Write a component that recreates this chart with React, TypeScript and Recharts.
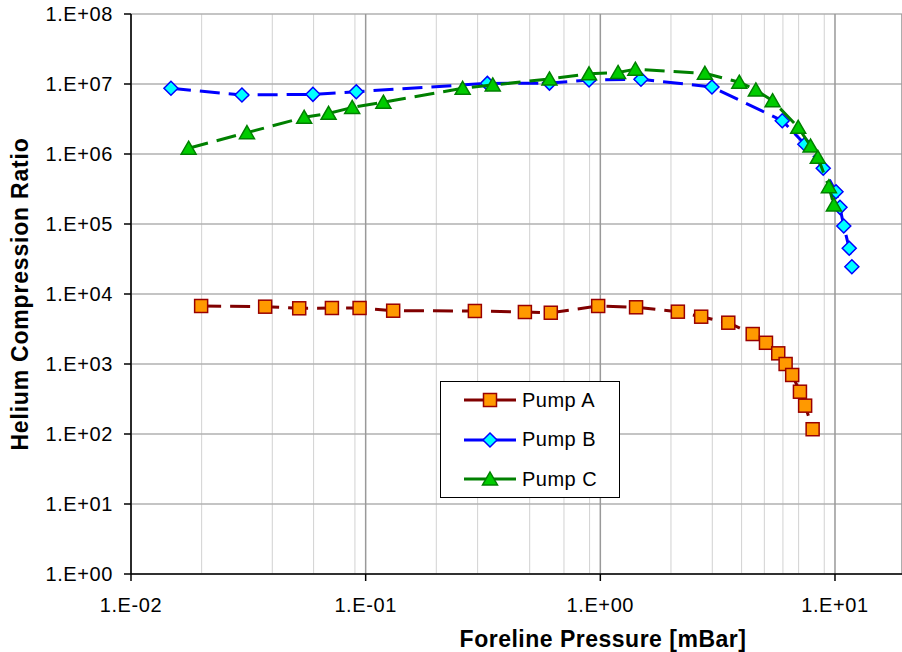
import { ScatterChart, Scatter, XAxis, YAxis, CartesianGrid, Legend } from 'recharts';

const FONT = '"Liberation Sans", Arial, sans-serif';

// Foreline pressure [mBar] and helium compression ratio
const pumpAPressure = [0.0199, 0.0373, 0.0521, 0.0718, 0.0942, 0.131, 0.292, 0.477, 0.615, 0.979, 1.42, 2.14, 2.69, 3.51, 4.46, 5.08, 5.73, 6.16, 6.57, 7.09, 7.46, 8.03];
const pumpARatio = [6740, 6590, 6250, 6310, 6310, 5770, 5720, 5530, 5400, 6740, 6460, 5590, 4740, 3890, 2680, 2010, 1420, 1000, 697, 402, 254, 117];

const pumpBPressure = [0.0148, 0.0297, 0.0596, 0.0912, 0.33, 0.607, 0.895, 1.49, 2.99, 5.96, 7.44, 8.91, 10.1, 10.5, 10.9, 11.5, 11.8];
const pumpBRatio = [8.68e6, 6.96e6, 7.12e6, 7.76e6, 1.02e7, 1.03e7, 1.14e7, 1.17e7, 9.06e6, 2.99e6, 1.38e6, 6.25e5, 2.89e5, 1.73e5, 9.36e4, 4.5e4, 2.45e4];

const pumpCPressure = [0.0176, 0.0312, 0.0547, 0.0695, 0.0876, 0.119, 0.259, 0.348, 0.607, 0.895, 1.19, 1.41, 2.79, 3.91, 4.6, 5.42, 6.97, 7.87, 8.45, 9.42, 9.89];
const pumpCRatio = [1.21e6, 2.02e6, 3.34e6, 3.81e6, 4.62e6, 5.49e6, 8.68e6, 9.68e6, 1.18e7, 1.4e7, 1.46e7, 1.63e7, 1.42e7, 1.06e7, 8.21e6, 5.77e6, 2.41e6, 1.3e6, 8.97e5, 3.41e5, 1.87e5];

const xMajorTicks = [0.01, 0.1, 1, 10];
const xMinorTicks = [
  0.02, 0.03, 0.04, 0.05, 0.06, 0.07, 0.08, 0.09,
  0.2, 0.3, 0.4, 0.5, 0.6, 0.7, 0.8, 0.9,
  2, 3, 4, 5, 6, 7, 8, 9,
];
const yTicks = [1, 10, 100, 1e3, 1e4, 1e5, 1e6, 1e7, 1e8];

const zip = (xs: number[], ys: number[]) => xs.map((p, i) => ({ p, r: ys[i] }));

const sciFormat = (v: number) => {
  const e = Math.round(Math.log10(v));
  return `1.E${e < 0 ? '-' : '+'}${String(Math.abs(e)).padStart(2, '0')}`;
};

const Square = ({ cx, cy }: any) => (
  <rect x={cx - 6.5} y={cy - 6.5} width={13} height={13} fill="#FF9900" stroke="#990000" strokeWidth={1.5} />
);

const Diamond = ({ cx, cy }: any) => (
  <polygon
    points={`${cx},${cy - 7} ${cx + 7},${cy} ${cx},${cy + 7} ${cx - 7},${cy}`}
    fill="#00FFFF"
    stroke="#0000FF"
    strokeWidth={1.5}
  />
);

const Triangle = ({ cx, cy }: any) => (
  <polygon
    points={`${cx},${cy - 7} ${cx + 7.5},${cy + 6} ${cx - 7.5},${cy + 6}`}
    fill="#00CC00"
    stroke="#008000"
    strokeWidth={1.5}
  />
);

const series = [
  { name: 'Pump A', data: zip(pumpAPressure, pumpARatio), color: '#800000', Shape: Square },
  { name: 'Pump B', data: zip(pumpBPressure, pumpBRatio), color: '#0000FF', Shape: Diamond },
  { name: 'Pump C', data: zip(pumpCPressure, pumpCRatio), color: '#008000', Shape: Triangle },
];

const LegendBox = () => (
  <div
    style={{
      width: 178,
      height: 115,
      border: '1px solid #000',
      background: '#fff',
      boxSizing: 'content-box',
      fontFamily: FONT,
      fontSize: 20,
      letterSpacing: 0.5,
    }}
  >
    {series.map((s, i) => (
      <div key={s.name} style={{ position: 'absolute', left: 0, top: 19 + i * 39.5 - 12, height: 24, display: 'flex', alignItems: 'center' }}>
        <svg width={80} height={24} style={{ display: 'block' }}>
          <line x1={24} y1={12} x2={76} y2={12} stroke={s.color} strokeWidth={3} />
          <s.Shape cx={50} cy={12} />
        </svg>
        <span style={{ marginLeft: 2, color: '#000' }}>{s.name}</span>
      </div>
    ))}
  </div>
);

const XTitle = ({ viewBox }: any) => (
  <text
    x={viewBox.x + 472}
    y={647}
    textAnchor="middle"
    fontFamily={FONT}
    fontWeight="bold"
    fontSize={23}
    letterSpacing={0.5}
    fill="#000"
  >
    Foreline Pressure [mBar]
  </text>
);

const YTitle = ({ viewBox }: any) => {
  const cy = viewBox.y + viewBox.height / 2;
  return (
    <text
      x={28}
      y={cy}
      transform={`rotate(-90, 28, ${cy})`}
      textAnchor="middle"
      fontFamily={FONT}
      fontWeight="bold"
      fontSize={23}
      letterSpacing={0.8}
      fill="#000"
    >
      Helium Compression Ratio
    </text>
  );
};

export default function App() {
  const tickStyle = { fill: '#000', fontSize: 20, fontFamily: FONT, letterSpacing: 0.6 };
  return (
    <div style={{ position: 'absolute', left: 0, top: 0, width: 902, height: 652, background: '#fff' }}>
      <ScatterChart width={902} height={652} margin={{ top: 14, right: 0, bottom: 0, left: 0 }}>
        <XAxis
          xAxisId="minor"
          dataKey="p"
          type="number"
          scale="log"
          domain={[0.01, 19.3]}
          allowDataOverflow
          ticks={xMinorTicks}
          hide
        />
        <XAxis
          xAxisId="major"
          dataKey="p"
          type="number"
          scale="log"
          domain={[0.01, 19.3]}
          allowDataOverflow
          ticks={xMajorTicks}
          tickFormatter={sciFormat}
          height={78}
          tickSize={7}
          tickMargin={17}
          tick={tickStyle}
          axisLine={{ stroke: '#000', strokeWidth: 1.5 }}
          tickLine={{ stroke: '#000', strokeWidth: 1.5 }}
          label={<XTitle />}
        />
        <YAxis
          dataKey="r"
          type="number"
          scale="log"
          domain={[1, 1e8]}
          allowDataOverflow
          ticks={yTicks}
          tickFormatter={sciFormat}
          width={131}
          tickSize={7}
          tickMargin={11}
          tick={tickStyle}
          axisLine={{ stroke: '#000', strokeWidth: 1.5 }}
          tickLine={{ stroke: '#000', strokeWidth: 1.5 }}
          label={<YTitle />}
        />
        <CartesianGrid xAxisId="minor" horizontal={false} stroke="#d2d2d2" strokeWidth={1} />
        <CartesianGrid xAxisId="major" vertical={false} stroke="#b0b0b0" strokeWidth={1.3} />
        <CartesianGrid xAxisId="major" horizontal={false} stroke="#999999" strokeWidth={1.5} />
        <Legend
          layout="vertical"
          align="center"
          verticalAlign="middle"
          wrapperStyle={{ left: 440, top: 381, width: 180, height: 117 }}
          content={<LegendBox />}
        />
        {series.map((s) => (
          <Scatter
            key={s.name}
            name={s.name}
            xAxisId="major"
            data={s.data}
            line={{ stroke: s.color, strokeWidth: 3, strokeDasharray: '20 9' }}
            shape={<s.Shape />}
            isAnimationActive={false}
          />
        ))}
      </ScatterChart>
    </div>
  );
}
